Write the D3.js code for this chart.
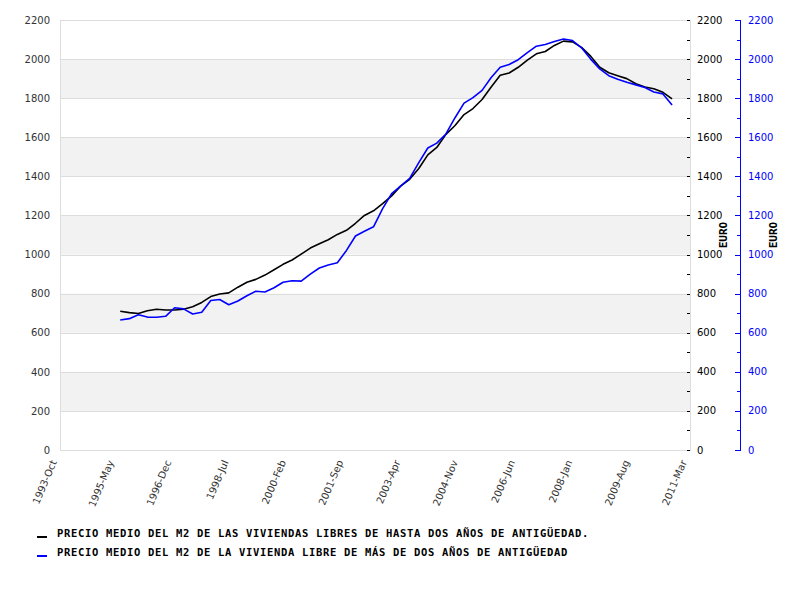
<!DOCTYPE html>
<html>
<head>
<meta charset="utf-8">
<script src="https://cdn.jsdelivr.net/npm/d3@7"></script>
<style>
  html, body { margin: 0; padding: 0; background: #fff; }
  svg { display: block; }
</style>
</head>
<body>
<svg id="chart" width="800" height="600"></svg>
<script>
// ---- DATA ----
const periods = [
  "1995-06","1995-09","1995-12",
  "1996-03","1996-06","1996-09","1996-12",
  "1997-03","1997-06","1997-09","1997-12",
  "1998-03","1998-06","1998-09","1998-12",
  "1999-03","1999-06","1999-09","1999-12",
  "2000-03","2000-06","2000-09","2000-12",
  "2001-03","2001-06","2001-09","2001-12",
  "2002-03","2002-06","2002-09","2002-12",
  "2003-03","2003-06","2003-09","2003-12",
  "2004-03","2004-06","2004-09","2004-12",
  "2005-03","2005-06","2005-09","2005-12",
  "2006-03","2006-06","2006-09","2006-12",
  "2007-03","2007-06","2007-09","2007-12",
  "2008-03","2008-06","2008-09","2008-12",
  "2009-03","2009-06","2009-09","2009-12",
  "2010-03","2010-06","2010-09"
];
const seriesNames = [
  "PRECIO MEDIO DEL M2 DE LAS VIVIENDAS LIBRES DE HASTA DOS AÑOS DE ANTIGÜEDAD.",
  "PRECIO MEDIO DEL M2 DE LA VIVIENDA LIBRE DE MÁS DE DOS AÑOS DE ANTIGÜEDAD"
];
const newHomes = [
  710, 703, 698, 712, 720, 716, 716, 720, 733, 755,
  785, 798, 804, 833, 858, 873, 895, 922, 950, 972,
  1002, 1033, 1055, 1076, 1103, 1124, 1160, 1200, 1224, 1260,
  1300, 1350, 1385, 1440, 1510, 1548, 1615, 1660, 1716, 1747,
  1793, 1857, 1917, 1929, 1958, 1995, 2027, 2039, 2070, 2092,
  2088, 2060, 2015, 1958, 1930, 1915, 1900, 1874, 1857, 1848,
  1830, 1796
];
const oldHomes = [
  665, 672, 692, 680, 679, 684, 728, 722, 696, 705,
  765, 770, 743, 762, 789, 812, 808, 830, 858, 866,
  864, 900, 931, 947, 958, 1021, 1095, 1119, 1142, 1235,
  1312, 1350, 1390, 1470, 1545, 1570, 1617, 1700, 1775, 1803,
  1840, 1906, 1958, 1972, 1997, 2033, 2066, 2075, 2090, 2103,
  2095, 2058, 2000, 1950, 1915, 1897, 1881, 1868, 1855, 1832,
  1822, 1765
];
const xTickLabels = ["1993-Oct","1995-May","1996-Dec","1998-Jul","2000-Feb","2001-Sep",
                     "2003-Apr","2004-Nov","2006-Jun","2008-Jan","2009-Aug","2011-Mar"];
const yTicks = [0,200,400,600,800,1000,1200,1400,1600,1800,2000,2200];
const yMinorTicks = [100,300,500,700,900,1100,1300,1500,1700,1900,2100];
const axisTitle = "EURO";

// ---- LAYOUT ----
const pL = 60, pR = 690, pT = 20, pB = 450;
const svg = d3.select("#chart");
const parsePeriod = d3.timeParse("%Y-%m");
const parseTick = d3.timeParse("%Y-%b");
const fmt = d3.format("d");

const x = d3.scaleTime()
  .domain([parseTick(xTickLabels[0]), parseTick(xTickLabels[xTickLabels.length - 1])])
  .range([pL, pR]);
const y = d3.scaleLinear().domain([0, 2200]).range([pB, pT]);

// Alternating bands
const bands = d3.range(yTicks.length - 1).map(i => [yTicks[i], yTicks[i + 1], i]);
svg.append("g").selectAll("rect").data(bands.filter(b => b[2] % 2 === 1)).join("rect")
  .attr("x", pL).attr("width", pR - pL)
  .attr("y", d => y(d[1])).attr("height", d => y(d[0]) - y(d[1]))
  .attr("fill", "#f2f2f2");

// Gridlines
svg.append("g").selectAll("line").data(yTicks).join("line")
  .attr("x1", pL).attr("x2", pR)
  .attr("y1", d => Math.round(y(d)) + 0.5).attr("y2", d => Math.round(y(d)) + 0.5)
  .attr("stroke", "#dddddd").attr("stroke-width", 1);

// Plot frame (left & right)
svg.append("line").attr("x1", pL + 0.5).attr("x2", pL + 0.5).attr("y1", pT).attr("y2", pB + 1)
  .attr("stroke", "#dddddd");
svg.append("line").attr("x1", pR + 0.5).attr("x2", pR + 0.5).attr("y1", pT).attr("y2", pB + 1)
  .attr("stroke", "#dddddd");

// Left axis labels
const leftAxis = d3.axisLeft(y).tickValues(yTicks).tickFormat(fmt).tickSize(0).tickPadding(10);
const gL = svg.append("g").attr("transform", `translate(${pL},0)`).call(leftAxis);
gL.select(".domain").remove();
gL.selectAll("text").attr("fill", "#333").style("font-family", "DejaVu Sans").style("font-size", "10px");

// Right black axis (ticks inward)
const gR = svg.append("g").attr("transform", `translate(${pR},0)`);
gR.selectAll("line").data(yTicks.concat(yMinorTicks)).join("line")
  .attr("x1", -3).attr("x2", 0)
  .attr("y1", d => Math.round(y(d)) + 0.5).attr("y2", d => Math.round(y(d)) + 0.5)
  .attr("stroke", "#000");
gR.selectAll("text").data(yTicks).join("text")
  .attr("x", 7).attr("y", d => y(d)).attr("dy", "0.35em")
  .attr("fill", "#000").style("font-family", "DejaVu Sans").style("font-size", "10px")
  .text(d => fmt(d));

// Right blue axis
const blueX = 740;
const gB = svg.append("g").attr("transform", `translate(${blueX},0)`);
gB.append("line").attr("x1", 0.5).attr("x2", 0.5).attr("y1", pT).attr("y2", pB + 1)
  .attr("stroke", "#0000ff");
gB.selectAll("line.t").data(yTicks).join("line").attr("class", "t")
  .attr("x1", -5).attr("x2", 0)
  .attr("y1", d => Math.round(y(d)) + 0.5).attr("y2", d => Math.round(y(d)) + 0.5)
  .attr("stroke", "#0000ff");
gB.selectAll("line.m").data(yMinorTicks).join("line").attr("class", "m")
  .attr("x1", -3).attr("x2", 0)
  .attr("y1", d => Math.round(y(d)) + 0.5).attr("y2", d => Math.round(y(d)) + 0.5)
  .attr("stroke", "#0000ff");
gB.selectAll("text").data(yTicks).join("text")
  .attr("x", 8).attr("y", d => y(d)).attr("dy", "0.35em")
  .attr("fill", "#0000ff").style("font-family", "DejaVu Sans").style("font-size", "10px")
  .text(d => fmt(d));

// Axis titles
const titleFont = "'DejaVu Sans Mono', monospace";
[[727, "#000"], [777, "#000"]].forEach(([tx, col]) => {
  svg.append("text")
    .attr("transform", `translate(${tx},${(pT + pB) / 2}) rotate(-90)`)
    .attr("text-anchor", "middle")
    .style("font-family", titleFont).style("font-weight", "bold").style("font-size", "11px")
    .attr("fill", col).text(axisTitle);
});

// X tick labels
svg.append("g").selectAll("text").data(xTickLabels).join("text")
  .attr("transform", d => `translate(${x(parseTick(d)) - 3},${462}) rotate(-67)`)
  .attr("text-anchor", "end")
  .attr("fill", "#333").style("font-family", "DejaVu Sans").style("font-size", "10px")
  .text(d => d);

// Lines
const line = d3.line().x((d, i) => x(parsePeriod(periods[i]))).y(d => y(d));
svg.append("path").datum(newHomes).attr("d", line)
  .attr("fill", "none").attr("stroke", "#000").attr("stroke-width", 1.6).attr("stroke-linejoin", "round");
svg.append("path").datum(oldHomes).attr("d", line)
  .attr("fill", "none").attr("stroke", "#0000ff").attr("stroke-width", 1.6).attr("stroke-linejoin", "round");

// Legend
const legendColors = ["#000", "#0000ff"];
const lg = svg.append("g");
seriesNames.forEach((name, i) => {
  const ly = 537 + i * 19;
  lg.append("line").attr("x1", 37).attr("x2", 47).attr("y1", ly).attr("y2", ly)
    .attr("stroke", legendColors[i]).attr("stroke-width", 2);
  lg.append("text").attr("x", 57).attr("y", ly)
    .style("font-family", titleFont).style("font-weight", "bold").style("font-size", "10.5px")
    .style("letter-spacing", "0.68px")
    .attr("fill", "#000").text(name);
});
</script>
</body>
</html>
